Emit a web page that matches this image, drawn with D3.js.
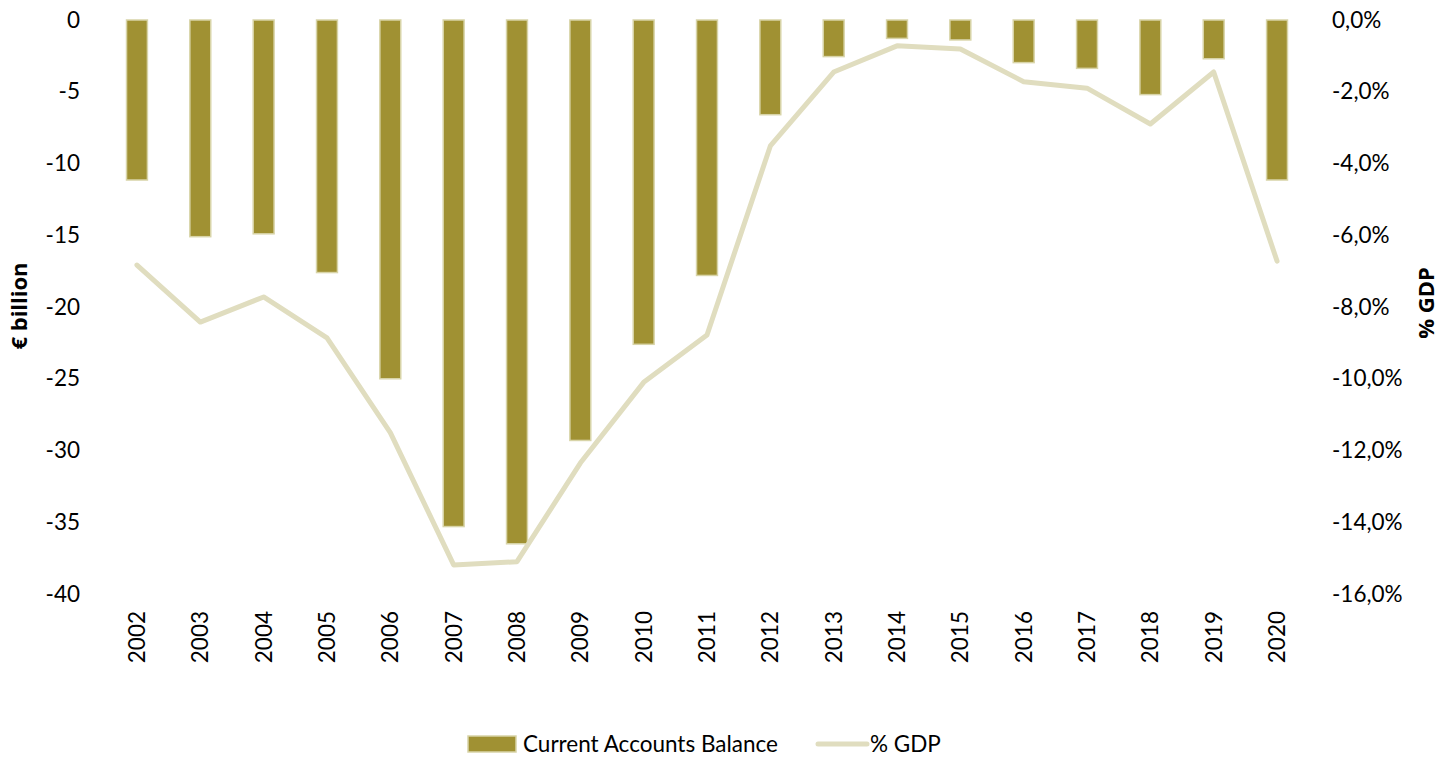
<!DOCTYPE html>
<html>
<head>
<meta charset="utf-8">
<script src="https://cdn.jsdelivr.net/npm/d3@7"></script>
<style>
  html, body { margin: 0; padding: 0; background: #fff; }
  svg { display: block; }
  text { fill: #000; }
</style>
</head>
<body>
<svg id="chart" width="1441" height="765"></svg>
<script>
const years = ["2002","2003","2004","2005","2006","2007","2008","2009","2010","2011","2012","2013","2014","2015","2016","2017","2018","2019","2020"];
const balance = [-11.15, -15.1, -14.9, -17.6, -25.0, -35.3, -36.5, -29.3, -22.6, -17.8, -6.6, -2.55, -1.28, -1.39, -2.97, -3.37, -5.2, -2.7, -11.15];
const gdpPct = [-6.83, -8.42, -7.72, -8.86, -11.5, -15.19, -15.1, -12.35, -10.1, -8.78, -3.51, -1.45, -0.72, -0.81, -1.72, -1.90, -2.9, -1.45, -6.72];
const leftTicks = [0, -5, -10, -15, -20, -25, -30, -35, -40];
const rightTicks = [0, -2, -4, -6, -8, -10, -12, -14, -16];
const seriesNames = ["Current Accounts Balance", "% GDP"];
const leftTitle = "€ billion";
const rightTitle = "% GDP";

const barColor = "#A09133";
const barStroke = "#D8D4A8";
const lineColor = "#E0DDBF";
const FS = 22.5;
const FONT = "Lato, 'Open Sans', sans-serif";
const TITLE_FONT = "'Open Sans', sans-serif";

const svg = d3.select("#chart");
const plotTop = 20, plotBottom = 594, plotLeft = 105.3, plotRight = 1308.7;

const x = d3.scaleBand().domain(years).range([plotLeft, plotRight]).paddingInner(0.67).paddingOuter(0.335);
const yL = d3.scaleLinear().domain([0, -40]).range([plotTop, plotBottom]);
const yR = d3.scaleLinear().domain([0, -16]).range([plotTop, plotBottom]);

// bars
svg.append("g").selectAll("rect").data(years).join("rect")
  .attr("x", d => x(d))
  .attr("y", yL(0))
  .attr("width", x.bandwidth())
  .attr("height", (d, i) => yL(balance[i]) - yL(0))
  .attr("fill", barColor)
  .attr("stroke", barStroke)
  .attr("stroke-width", 1.5);

// line
const line = d3.line()
  .x((d, i) => x(years[i]) + x.bandwidth() / 2)
  .y(d => yR(d));
svg.append("path").datum(gdpPct)
  .attr("d", line)
  .attr("fill", "none")
  .attr("stroke", lineColor)
  .attr("stroke-width", 5)
  .attr("stroke-linejoin", "round")
  .attr("stroke-linecap", "round");

// left axis
const leftAxis = d3.axisLeft(yL).tickValues(leftTicks).tickSize(0).tickPadding(0)
  .tickFormat(d => String(d));
const gL = svg.append("g").attr("transform", "translate(80,0)").call(leftAxis);
gL.select(".domain").remove();
gL.selectAll("text").style("font-size", FS + "px").style("font-family", FONT).attr("fill", "#000");

// right axis
const rightAxis = d3.axisRight(yR).tickValues(rightTicks).tickSize(0).tickPadding(0)
  .tickFormat(d => (d === 0 ? "0.0" : d.toFixed(1)).replace(".", ",") + "%");
const gR = svg.append("g").attr("transform", "translate(1332,0)").call(rightAxis);
gR.select(".domain").remove();
gR.selectAll("text").style("font-size", FS + "px").style("font-family", FONT).attr("fill", "#000");

// x axis labels (rotated)
const xAxis = d3.axisBottom(x).tickSize(0).tickPadding(0);
const gX = svg.append("g").call(xAxis);
gX.select(".domain").remove();
gX.selectAll(".tick text")
  .attr("transform", "translate(0,611) rotate(-90)")
  .attr("x", 0).attr("y", 0).attr("dy", "0.35em")
  .attr("text-anchor", "end")
  .style("font-size", FS + "px").style("font-family", FONT).attr("fill", "#000");

// axis titles
svg.append("text").attr("transform", "translate(27,306) rotate(-90)")
  .attr("text-anchor", "middle")
  .style("font-size", "22px").style("font-weight", "bold").style("font-family", TITLE_FONT)
  .text(leftTitle);
svg.append("text").attr("transform", "translate(1434,303) rotate(-90)")
  .attr("text-anchor", "middle")
  .style("font-size", "22px").style("font-weight", "bold").style("font-family", TITLE_FONT)
  .text(rightTitle);

// legend
const lg = svg.append("g");
lg.append("rect").attr("x", 468).attr("y", 736).attr("width", 48).attr("height", 16)
  .attr("fill", barColor).attr("stroke", barStroke).attr("stroke-width", 1.5);
lg.append("text").attr("x", 523).attr("y", 744).attr("dy", "0.35em")
  .style("font-size", FS + "px").style("font-family", FONT).text(seriesNames[0]);
lg.append("line").attr("x1", 818).attr("x2", 867).attr("y1", 744).attr("y2", 744)
  .attr("stroke", lineColor).attr("stroke-width", 5).attr("stroke-linecap", "round");
lg.append("text").attr("x", 870).attr("y", 744).attr("dy", "0.35em")
  .style("font-size", FS + "px").style("font-family", FONT).text(seriesNames[1]);
</script>
</body>
</html>
